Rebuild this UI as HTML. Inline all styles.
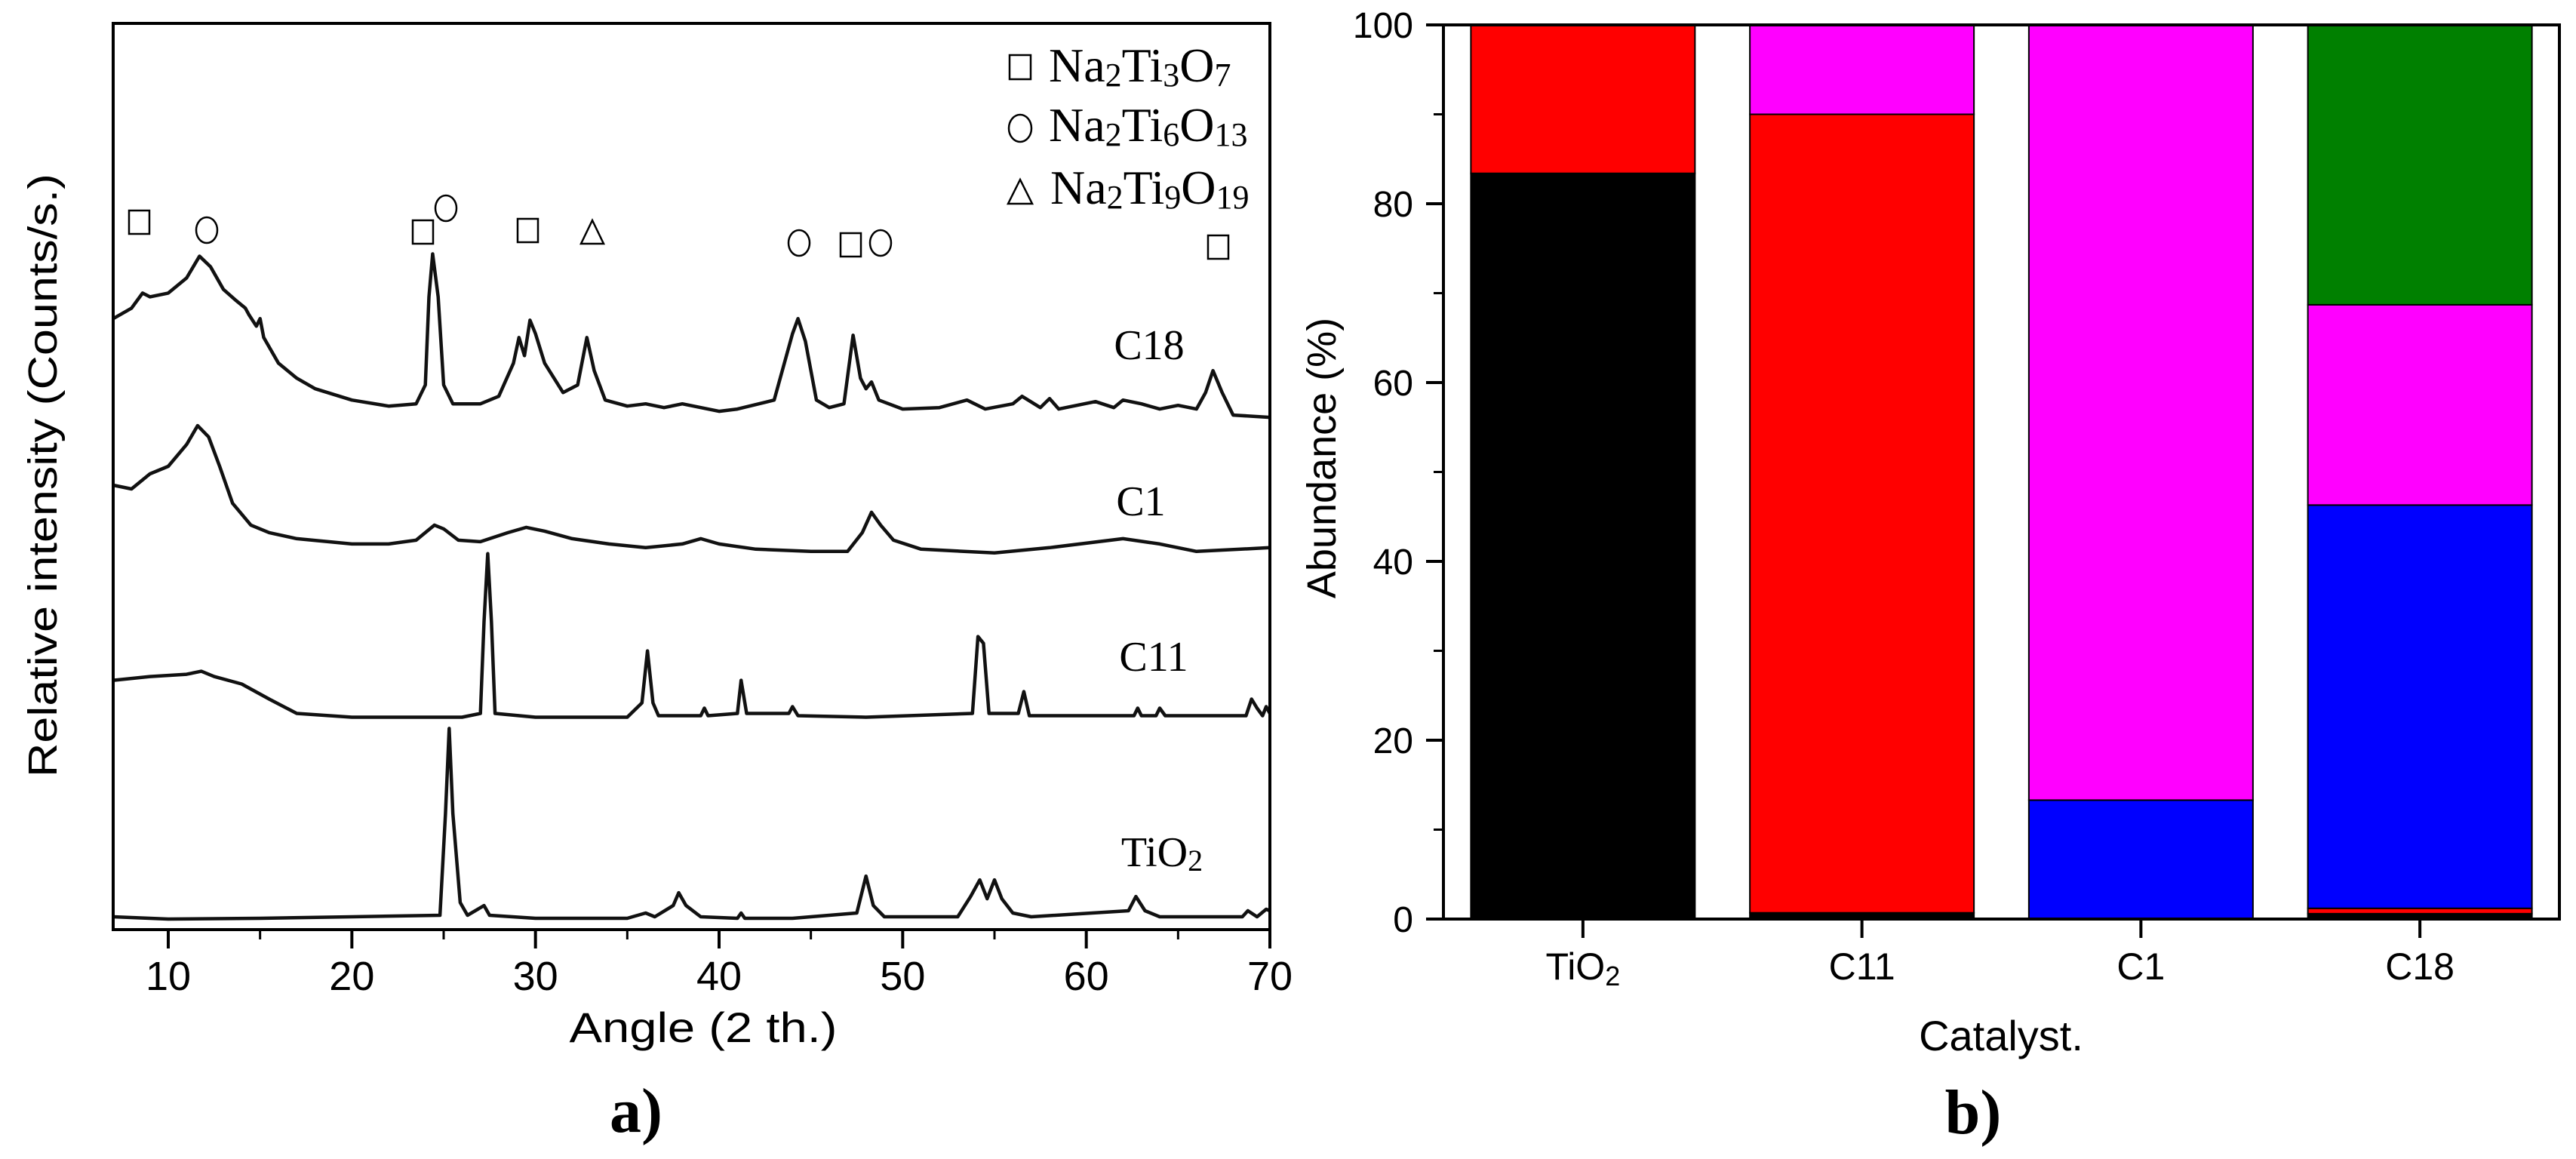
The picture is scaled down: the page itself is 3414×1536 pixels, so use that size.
<!DOCTYPE html>
<html><head><meta charset="utf-8">
<style>
html,body{margin:0;padding:0;background:#fff;}
svg{display:block;}
.sans{font-family:"Liberation Sans",Arial,sans-serif;}
.serif{font-family:"Liberation Serif","Times New Roman",serif;}
</style></head>
<body>
<svg id="fig" width="3414" height="1536" viewBox="0 0 3414 1536" xmlns="http://www.w3.org/2000/svg">
<rect x="0" y="0" width="3414" height="1536" fill="#fff"/>
<g id="panelA"></g>
<g id="panelB"></g>
</svg>
<script>
// ---------- Panel a) XRD data (angle in degrees, intensity in arbitrary units 0..1203) ----------
const c18Angle = [7,8,8.6,9,10,11,11.7,12.3,13,13.7,14.2,14.4,14.8,15,15.2,16,17,18,20,22,23.5,24,24.2,24.4,24.7,25,25.5,27,28,28.8,29.1,29.4,29.7,30,30.5,31.5,32.3,32.8,33.2,33.8,35,36,37,38,40,41,43,44,44.3,44.7,45.3,46,46.8,47.3,47.7,48,48.3,48.7,50,52,53.5,54.5,56,56.5,57.5,58,58.5,60.5,61.5,62,63,64,65,66,66.5,66.9,67.4,68,70];
const c18Int = [811,825,845,840,845,865,894,880,850,835,825,816,801,811,786,752,732,718,703,695,698,723,840,897,840,723,698,698,708,752,786,762,809,791,752,713,723,786,742,703,695,698,693,698,688,691,703,791,811,781,703,693,698,789,732,718,727,703,691,693,703,691,698,708,693,705,691,701,693,703,698,691,696,691,713,742,713,683,680];
const c1Angle = [7,8,9,10,11,11.6,12.2,12.8,13.5,14.5,15.5,17,20,22,23.5,24.5,25,25.8,27,28.5,29.5,30.5,32,34,36,38,39,40,42,45,47,47.8,48.3,48.8,49.5,51,55,58,62,64,66,70];
const c1Int = [590,585,605,615,644,669,654,615,566,537,527,519,512,512,517,537,532,517,515,527,534,529,519,512,507,512,519,512,505,502,502,527,554,537,517,505,500,507,519,512,502,507];
const c11Angle = [7,9,11,11.8,12.5,14,15.5,17,20,24,26,27,27.2,27.4,27.6,27.8,30,35,35.8,36.1,36.4,36.7,39,39.2,39.4,41,41.2,41.5,43.8,44,44.3,48,53.8,54.1,54.4,54.7,56.3,56.6,56.9,62.6,62.8,63,63.8,64,64.3,68.7,69,69.3,69.6,69.8,70];
const c11Int = [331,336,339,343,336,326,306,287,282,282,282,287,409,499,409,287,282,282,301,370,301,284,284,294,284,287,331,287,287,296,284,282,287,389,380,287,287,316,284,284,294,284,284,294,284,284,306,294,284,296,287];
const tioAngle = [7,10,15,20,24.8,25.1,25.3,25.5,25.9,26.3,27.2,27.5,30,35,36,36.5,37.5,37.8,38.2,39,41,41.2,41.4,44,47.5,48,48.4,49,53,53.7,54.2,54.6,55,55.4,56,57,62.3,62.7,63.2,64,68.5,68.8,69.3,69.8,70];
const tioInt = [17,14,15,17,19,154,267,154,36,19,32,19,15,15,22,17,32,49,32,17,15,22,15,15,22,71,32,17,17,44,66,41,66,41,22,17,25,44,25,17,17,25,17,27,25];
const seriesNames = ["C18","C1","C11","TiO2"];
const xTicks = [10,20,30,40,50,60,70];
const xMinor = [15,25,35,45,55,65];

// ---------- Panel b) abundance data ----------
const catalysts = ["TiO2","C11","C1","C18"];
const blackVals = [83.4,0.7,0,0.6];
const redVals = [16.6,89.3,0,0.6];
const blueVals = [0,0,13.3,45.1];
const magentaVals = [0,10,86.7,22.4];
const greenVals = [0,0,0,31.3];
const yTicksB = [0,20,40,60,80,100];
const yMinorB = [10,30,50,70,90];

const NS = "http://www.w3.org/2000/svg";
function mk(parent, tag, attrs, text){
  const e = document.createElementNS(NS, tag);
  for (const k in attrs) e.setAttribute(k, attrs[k]);
  if (text !== undefined) e.textContent = text;
  parent.appendChild(e);
  return e;
}

// ===== Panel A =====
const A = document.getElementById('panelA');
const aL=150, aR=1683, aT=31, aB=1232;
const xA = v => aL + (v-7)/(70-7)*(aR-aL);
const yA = v => aB - v*(aB-aT)/1203;

const series = [[c18Angle,c18Int],[c1Angle,c1Int],[c11Angle,c11Int],[tioAngle,tioInt]];
series.forEach((s,i)=>{
  let d = "";
  s[0].forEach((a,j)=>{ d += (j?"L":"M") + xA(a).toFixed(1) + " " + yA(s[1][j]).toFixed(1); });
  const p = mk(A,'path',{d:d,fill:'none',stroke:'#111','stroke-width':4.5,'stroke-linejoin':'round'});
  
  
});

const frameA = mk(A,'rect',{x:aL,y:aT,width:aR-aL,height:aB-aT,fill:'none',stroke:'#000','stroke-width':4});



xTicks.forEach(t=>{
  const l = mk(A,'line',{x1:xA(t),x2:xA(t),y1:aB,y2:aB+25,stroke:'#000','stroke-width':4});
  
  
  const tx = mk(A,'text',{x:xA(t),y:aB+80,'text-anchor':'middle','font-size':54,class:'sans'},String(t));
  
  
});
xMinor.forEach(t=>{
  const l = mk(A,'line',{x1:xA(t),x2:xA(t),y1:aB,y2:aB+13,stroke:'#000','stroke-width':3});
  
  
});
</script>
<script>
(function(){
const A = document.getElementById('panelA');
A.insertAdjacentHTML('beforeend', `
<text class="sans" x="932" y="1381" font-size="56" text-anchor="middle" textLength="355" lengthAdjust="spacingAndGlyphs">Angle  (2 th.)</text>
<text class="sans" transform="translate(75,630) rotate(-90)" font-size="54" text-anchor="middle" textLength="800" lengthAdjust="spacingAndGlyphs">Relative intensity  (Counts/s.)</text>
<text class="serif" x="843" y="1500" font-size="84" font-weight="bold" text-anchor="middle">a)</text>
<g>
 <rect x="1338" y="73" width="28" height="32" fill="none" stroke="#000" stroke-width="2.5"/>
 <text class="serif" x="1390" y="108" font-size="64">Na<tspan font-size="44" dy="6">2</tspan><tspan dy="-6">Ti</tspan><tspan font-size="44" dy="6">3</tspan><tspan dy="-6">O</tspan><tspan font-size="44" dy="6">7</tspan></text>
 <ellipse cx="1352" cy="170" rx="15" ry="18" fill="none" stroke="#000" stroke-width="2.5"/>
 <text class="serif" x="1390" y="187" font-size="64">Na<tspan font-size="44" dy="6">2</tspan><tspan dy="-6">Ti</tspan><tspan font-size="44" dy="6">6</tspan><tspan dy="-6">O</tspan><tspan font-size="44" dy="6">13</tspan></text>
 <path d="M1336 270 L1352 238 L1368 270 Z" fill="none" stroke="#000" stroke-width="2.5"/>
 <text class="serif" x="1392" y="270" font-size="64">Na<tspan font-size="44" dy="6">2</tspan><tspan dy="-6">Ti</tspan><tspan font-size="44" dy="6">9</tspan><tspan dy="-6">O</tspan><tspan font-size="44" dy="6">19</tspan></text>
</g>
<g fill="none" stroke="#000" stroke-width="2.5">
 <rect x="171" y="279" width="27" height="31"/>
 <ellipse cx="274" cy="305" rx="14" ry="17"/>
 <rect x="547" y="292" width="27" height="31"/>
 <ellipse cx="591" cy="276" rx="14" ry="17"/>
 <rect x="686" y="290" width="27" height="31"/>
 <path d="M770 323 L785 292 L800 323 Z"/>
 <ellipse cx="1059" cy="322" rx="14" ry="17"/>
 <rect x="1114" y="309" width="27" height="31"/>
 <ellipse cx="1167" cy="322" rx="14" ry="17"/>
 <rect x="1601" y="312" width="27" height="31"/>
</g>
<text class="serif" x="1523" y="476" font-size="56" text-anchor="middle">C18</text>
<text class="serif" x="1512" y="683" font-size="56" text-anchor="middle">C1</text>
<text class="serif" x="1529" y="889" font-size="56" text-anchor="middle">C11</text>
<text class="serif" x="1540" y="1148" font-size="56" text-anchor="middle">TiO<tspan font-size="40" dy="6">2</tspan></text>
`);
})();
</script>
<script>
// ===== Panel B =====
const B = document.getElementById('panelB');
const bL=1913, bR=3392, bT=33, bB=1218;
const band = (bR-bL)/catalysts.length;
const xB = i => bL + band*(i+0.5);
const barW = 297;
const yB = v => bB - v/100*(bB-bT);
const stackSeries = [[blackVals,'#000000','black'],[redVals,'#ff0000','red'],[blueVals,'#0000ff','blue'],[magentaVals,'#ff00ff','magenta'],[greenVals,'#008000','green']];

catalysts.forEach((c,i)=>{
  let acc = 0;
  stackSeries.forEach(s=>{
    const v = s[0][i];
    if (v <= 0) return;
    const r = mk(B,'rect',{x:xB(i)-barW/2,y:yB(acc+v),width:barW,height:yB(acc)-yB(acc+v),fill:s[1],stroke:'#000','stroke-width':2});
    
    
    acc += v;
  });
});

const frameB = mk(B,'rect',{x:bL,y:bT,width:bR-bL,height:bB-bT,fill:'none',stroke:'#000','stroke-width':4});



yTicksB.forEach(t=>{
  const l = mk(B,'line',{x1:bL-23,x2:bL,y1:yB(t),y2:yB(t),stroke:'#000','stroke-width':4});
  
  
  const tx = mk(B,'text',{x:bL-40,y:yB(t)+17,'text-anchor':'end','font-size':48,class:'sans'},String(t));
  
  
});
yMinorB.forEach(t=>{
  const l = mk(B,'line',{x1:bL-13,x2:bL,y1:yB(t),y2:yB(t),stroke:'#000','stroke-width':3});
  
  
});
catalysts.forEach((c,i)=>{
  const l = mk(B,'line',{x1:xB(i),x2:xB(i),y1:bB,y2:bB+25,stroke:'#000','stroke-width':4});
  
  
  const tx = mk(B,'text',{x:xB(i),y:bB+80,'text-anchor':'middle','font-size':50,class:'sans'});
  if (c === 'TiO2') {
    tx.textContent = 'TiO';
    mk(tx,'tspan',{'font-size':36,dy:8},'2');
  } else {
    tx.textContent = c;
  }
  
  
});
B.insertAdjacentHTML('beforeend', `
<text class="sans" x="2652" y="1392" font-size="56" text-anchor="middle">Catalyst.</text>
<text class="sans" transform="translate(1770,607) rotate(-90)" font-size="54" text-anchor="middle">Abundance (%)</text>
<text class="serif" x="2615" y="1502" font-size="84" font-weight="bold" text-anchor="middle">b)</text>
`);
</script>
</body></html>
